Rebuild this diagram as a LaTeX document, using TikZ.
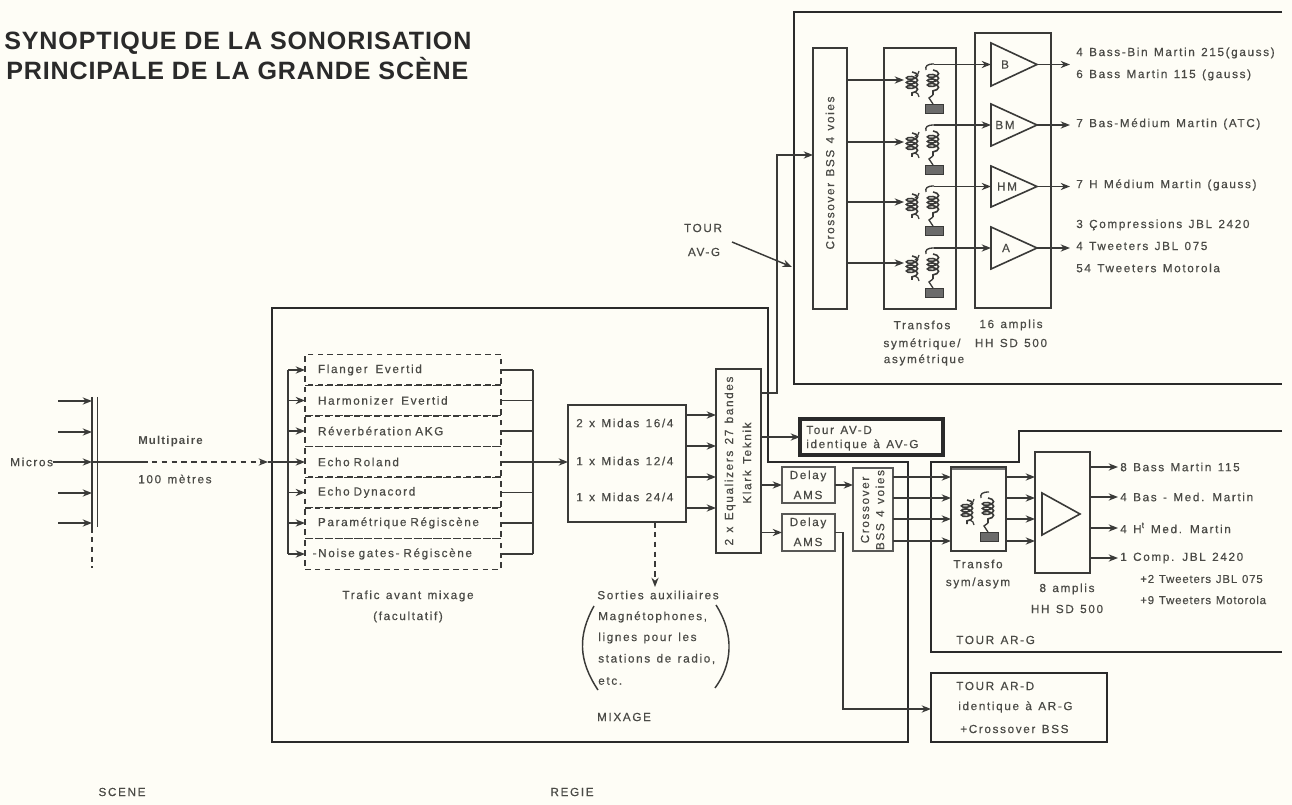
\documentclass[tikz,border=0pt]{standalone}
\usepackage{fontspec}
\usetikzlibrary{arrows.meta,decorations.pathmorphing}
\setmainfont{Liberation Sans}
\newfontfamily\lab[LetterSpace=14,WordSpace=1.3,FakeBold=0.5]{Liberation Sans}
\newfontfamily\labn[LetterSpace=7,WordSpace=1.2,FakeBold=0.5]{Liberation Sans}
\newfontfamily\labb[LetterSpace=10,WordSpace=1.6]{Liberation Sans Bold}
\newfontfamily\ttlf[LetterSpace=3.5]{Liberation Sans Bold}
\definecolor{paper}{HTML}{FEFDF6}
\definecolor{ink}{HTML}{3A3A38}
\definecolor{inkt}{HTML}{4A4A46}
\definecolor{inkd}{HTML}{2A2A2A}
\tikzset{
  boxst/.style={draw=ink,line width=1.2pt,inner sep=0pt,outer sep=0pt},
  grayb/.style={line width=1.6pt,draw=ink!85},
  lbl/.style={font=\lab\fontsize{8.8}{10}\selectfont,text=inkt,inner sep=0pt,anchor=west},
  lbln/.style={lbl,font=\labn\fontsize{8.6}{10}\selectfont},
  lblc/.style={lbl,anchor=center},
  lblr/.style={lblc,rotate=90},
  ttl/.style={font=\ttlf\fontsize{18.8}{22}\selectfont,text=inkd,inner sep=0pt,anchor=base west},
  wire/.style={draw=ink,line width=1.1pt},
  arr/.style={wire,-{Stealth[length=7pt,width=5.4pt]}},
  dash7/.style={dash pattern=on 4.2pt off 3.2pt},
  fxb/.style={draw=ink,line width=1.1pt,dash7,inner xsep=9.75pt,inner ysep=0pt,outer sep=0pt,
    text width=127.5pt,minimum height=23pt,font=\lab\fontsize{8.8}{10}\selectfont,text=inkt},
  frameL/.style={draw=inkd,line width=2.2pt},
  coilp/.style={draw=ink,line width=1.2pt,decorate,decoration={coil,aspect=0.45,segment length=3.4pt,amplitude=4.2pt}},
  shield/.style={fill=ink!75,draw=ink,line width=.5pt},
  xf/.pic={
    \draw[coilp] (912,8) -- (912,32);
    \draw[wire,line width=.9pt] (919,7) arc (0:80:5) ;
    \draw[wire,line width=.9pt] (919,33) arc (0:-80:5);
    \draw[coilp] (933,6) -- (933,31);
    \draw[wire,line width=1pt] (926,6) .. controls (925,2) and (927,0) .. (934,0);
    \draw[wire,line width=1pt] (933,31) -- (929,34) -- (933,40);
    \draw[shield] (925,40) rectangle (943,49);
  }
}
\newcommand{\Bx}[7][]{%
  \pgfmathsetmacro\bxw{(#5-#3)*0.75}\pgfmathsetmacro\bxh{(#6-#4)*0.75}%
  \pgfmathsetmacro\bxx{(#3+#5)/2}\pgfmathsetmacro\bxy{(#4+#6)/2}%
  \node[boxst,minimum width=\bxw pt,minimum height=\bxh pt,#1] (#2) at (\bxx,\bxy) {#7};}
\begin{document}
\begin{tikzpicture}[x=0.75pt,y=-0.75pt]
\useasboundingbox (0,0) rectangle (1292,805);
\fill[paper] (0,0) rectangle (1292,805);

% title
\node[ttl] (title1) at (4,50) {SYNOPTIQUE DE LA SONORISATION};
\node[ttl] (title2) at (6,80) {PRINCIPALE DE LA GRANDE SCÈNE};

% frames
\draw[frameL] (1282,12) -- (794,12) -- (794,384) -- (1282,384);
\draw[frameL] (768,462) -- (768,308) -- (272,308) -- (272,742) -- (908,742) -- (908,462) -- cycle;
\draw[frameL] (1282,431) -- (1019,431) -- (1019,462) -- (931,462) -- (931,652) -- (1282,652);

% micros
\node[lbl] (micros) at (10,462) {Micros};
\coordinate (barT) at (92,397); \coordinate (barB) at (92,527);
\draw[wire] (barT) -- (barB);
\draw[wire] (97.5,397) -- (97.5,527);
\draw[wire,dash7] (barB) -- (92,568);
\foreach \n/\y in {m1/401,m2/432,m4/493,m5/523}{
  \coordinate (\n) at (58,\y);
  \draw[arr] (\n) -- (barT |- \n);
}
\coordinate (mid) at (92,462);
\draw[arr] (micros.east) -- (mid);
\coordinate (cA) at (142,462);
\coordinate (cB) at (268,462);
\coordinate (busL) at (288,462);
\draw[wire] (mid) -- (cA);
\draw[arr,dash7] (cA) -- (cB);
\draw[wire] (cB) -- (busL);
\node[lbl,font=\labb\fontsize{8.6}{10}\selectfont] (multi) at (138,442) {Multipaire};
\node[lbl] (cent) at (138,479) {100 mètres};

% effects
\node[fxb,anchor=center] (fx1) at (403,370) {Flanger \ Evertid};
\node[fxb,anchor=center] (fx2) at (403,400.5) {Harmonizer \ Evertid};
\node[fxb,anchor=center] (fx3) at (403,431) {Réverbération AKG};
\node[fxb,anchor=center] (fx4) at (403,462) {Echo Roland};
\node[fxb,anchor=center] (fx5) at (403,492.5) {Echo Dynacord};
\node[fxb,anchor=center] (fx6) at (403,523) {Paramétrique Régiscène};
\node[fxb,anchor=center] (fx7) at (403,554) {\hspace{-4pt}-Noise gates- Régiscène};
\draw[wire] (fx1.west -| busL) -- (busL |- fx7.west);
\foreach \f in {fx1,fx2,fx3,fx4,fx5,fx6,fx7}{
  \draw[arr] (busL |- \f.west) -- (\f.west);
}
\coordinate (busR) at (533,462);
\draw[wire] (busR |- fx1.east) -- (busR |- fx7.east);
\foreach \f in {fx1,fx2,fx3,fx5,fx6,fx7}{
  \draw[wire] (\f.east) -- (busR |- \f.east);
}
\node[lblc] (traf1) at (408,596) {Trafic avant mixage};
\node[lblc] (traf2) at (408,617) {(facultatif)};

% midas
\Bx{midas}{568}{405}{686}{522}{}
\draw[arr] (fx4.east) -- (midas.west |- fx4.east);
\node[lbl] (mid1) at (576,423) {2 x Midas 16/4};
\node[lbl] (mid2) at (576,461) {1 x Midas 12/4};
\node[lbl] (mid3) at (576,497) {1 x Midas 24/4};

% equalizers
\Bx{eq}{716}{369}{761}{553}{}
\foreach \y in {415,446,477,508}{
  \draw[arr] (midas.east |- 0,\y) -- (eq.west |- 0,\y);
}
\node[lblr] (eqa) at (730,461) {2 x Equalizers 27 bandes};
\node[lblr] (eqb) at (747,463) {Klark Teknik};

% aux
\coordinate (aux) at (655,587);
\draw[arr,dash7] (midas.south -| aux) -- (aux);
\node[lblc] (aux0) at (658,595) {Sorties auxiliaires};
\node[lbl] (aux1) at (598,617) {Magnétophones,};
\node[lbl] (aux2) at (598,638) {lignes pour les};
\node[lbl] (aux3) at (598,659) {stations de radio,};
\node[lbl] (aux4) at (598,681) {etc.};
\draw[wire] (594,606) .. controls (578,635) and (578,660) .. (598,690);
\draw[wire] (716,605) .. controls (735,635) and (732,665) .. (715,688);
\node[lblc] (mix) at (624,717) {MIXAGE};

% tower AV-G
\Bx{xo}{813}{48}{847}{309}{}
\Bx{tr}{884}{48}{956}{309}{}
\Bx{am}{975}{33}{1051}{308}{}
\node[lblr] (xot) at (830,173) {Crossover BSS 4 voies};
\coordinate (xoin) at (777,155);
\draw[arr,line width=1.4pt] (eq.east |- 0,393) -| (xoin) -- (xo.west |- xoin);
\foreach \y/\n in {64/s1,125/s2,186/s3,248/s4}{
  \pic at (0,\y) {xf};
  \coordinate (\n) at (934,\y);
}
\foreach \n/\y in {p1/80,p2/142,p3/202,p4/263}{
  \coordinate (\n) at (904,\y);
  \draw[arr] (xo.east |- \n) -- (\n);
}
\foreach \i/\yt/\yb/\t/\tx in {1/43/86/B/1005,2/104/146/BM/1005,3/166/207/HM/1007,4/227/269/A/1006}{
  \pgfmathsetmacro\ym{(\yt+\yb)/2}
  \draw[wire,line width=1.2pt] (991,\yt) -- (1037,\ym) -- (991,\yb) -- cycle;
  \node[lblc] (amp\i) at (\tx,\ym) {\t};
  \coordinate (ai\i) at (991,\ym);
  \coordinate (ao\i) at (1037,\ym);
  \coordinate (oe\i) at (1070,\ym);
  \draw[arr] (s\i |- ai\i) -- (ai\i);
  \draw[arr] (ao\i) -- (oe\i);
}
\node[lbl] (o1) at (1076,53) {4 Bass-Bin Martin 215(gauss)};
\node[lbl] (o2) at (1076,75) {6 Bass Martin 115 (gauss)};
\node[lbl] (o3) at (1076,124) {7 Bas-Médium Martin (ATC)};
\node[lbl] (o4) at (1076,185) {7 H Médium Martin (gauss)};
\node[lbl] (o5) at (1076,225) {3 Çompressions JBL 2420};
\node[lbl] (o6) at (1076,246) {4 Tweeters JBL 075};
\node[lbl] (o7) at (1076,268) {54 Tweeters Motorola};
\node[lblc] (c1) at (922,325) {Transfos};
\node[lblc] (c2) at (922,344) {symétrique/};
\node[lblc] (c3) at (924,360) {asymétrique};
\node[lblc] (c4) at (1011,325) {16 amplis};
\node[lblc] (c5) at (1011,343) {HH SD 500};
\node[lblc] (tr1) at (703,228) {TOUR};
\node[lblc] (tr2) at (704,252) {AV-G};
\coordinate (tourtail) at (732,242);
\coordinate (tourtip) at (792,267);
\draw[arr] (tourtail) -- (tourtip);

% tower AV-D
\Bx[line width=2.6pt,draw=inkd]{avd}{800}{419}{943}{455}{}
\draw[arr] (eq.east |- avd.west) -- (avd.west);
\node[lbl] (avd1) at (806,430) {Tour AV-D};
\node[lbl] (avd2) at (806,445) {identique à AV-G};

% delays and crossover
\Bx[grayb]{d1}{782}{467}{835}{503}{}
\Bx[grayb]{d2}{782}{514}{835}{551}{}
\Bx[grayb]{xb}{853}{468}{893}{551}{}
\node[lblc] (d1a) at (808,476) {Delay};
\node[lblc] (d1b) at (808,495) {AMS};
\node[lblc] (d2a) at (808,523) {Delay};
\node[lblc] (d2b) at (808,542) {AMS};
\node[lblr] (xb1) at (865,510) {Crossover};
\node[lblr] (xb2) at (880,510) {BSS 4 voies};
\draw[arr] (eq.east |- d1.west) -- (d1.west);
\draw[arr] (eq.east |- d2.west) -- (d2.west);
\draw[arr] (d1.east) -- (xb.west |- d1.east);

% tower AR-G
\Bx{ts}{951}{467}{1006}{551}{}
\Bx{ab}{1035}{452}{1090}{573}{}
\foreach \y in {477,498,519,541}{
  \draw[arr,line width=1.3pt] (xb.east |- 0,\y) -- (ts.west |- 0,\y);
  \draw[arr,line width=1.3pt] (ts.east |- 0,\y) -- (ab.west |- 0,\y);
}
\draw[fill=ink!70,draw=none] (952,467.5) rectangle (1005,470);
\pic at (55,492) {xf};
\draw[wire,line width=1.2pt] (1042,493) -- (1080,514) -- (1042,535) -- cycle;
\foreach \n/\y in {b1/467,b2/497,b3/528,b4/558}{
  \coordinate (\n) at (1118,\y);
  \draw[arr] (ab.east |- \n) -- (\n);
}
\node[lbl] (r1) at (1120,467) {8 Bass Martin 115};
\node[lbl] (r2) at (1120,497) {4 Bas - Med. Martin};
\node[lbl] (r3) at (1120,528) {4 H\textsuperscript{t} Med. Martin};
\node[lbl] (r4) at (1120,558) {1 Comp. JBL 2420};
\node[lbln] (r5) at (1140,579) {+2 Tweeters JBL 075};
\node[lbln] (r6) at (1140,600) {+9 Tweeters Motorola};
\node[lblc] (tc1) at (978,564) {Transfo};
\node[lblc] (tc2) at (978,583) {sym/asym};
\node[lblc] (ac1) at (1067,589) {8 amplis};
\node[lblc] (ac2) at (1067,609) {HH SD 500};
\node[lbl] (arg) at (956,640) {TOUR AR-G};

% tower AR-D
\Bx[line width=2pt,draw=inkd]{ard}{931}{673}{1107}{742}{}
\coordinate (dd) at (843,709);
\draw[arr] (d2.east) -| (dd) -- (ard.west |- dd);
\node[lbl] (ard1) at (956,686) {TOUR AR-D};
\node[lbl] (ard2) at (958,707) {identique à AR-G};
\node[lbl] (ard3) at (960,729) {+Crossover BSS};

% captions
\node[lblc] (scene) at (122,792) {SCENE};
\node[lblc] (regie) at (572,792) {REGIE};
\end{tikzpicture}
\end{document}
